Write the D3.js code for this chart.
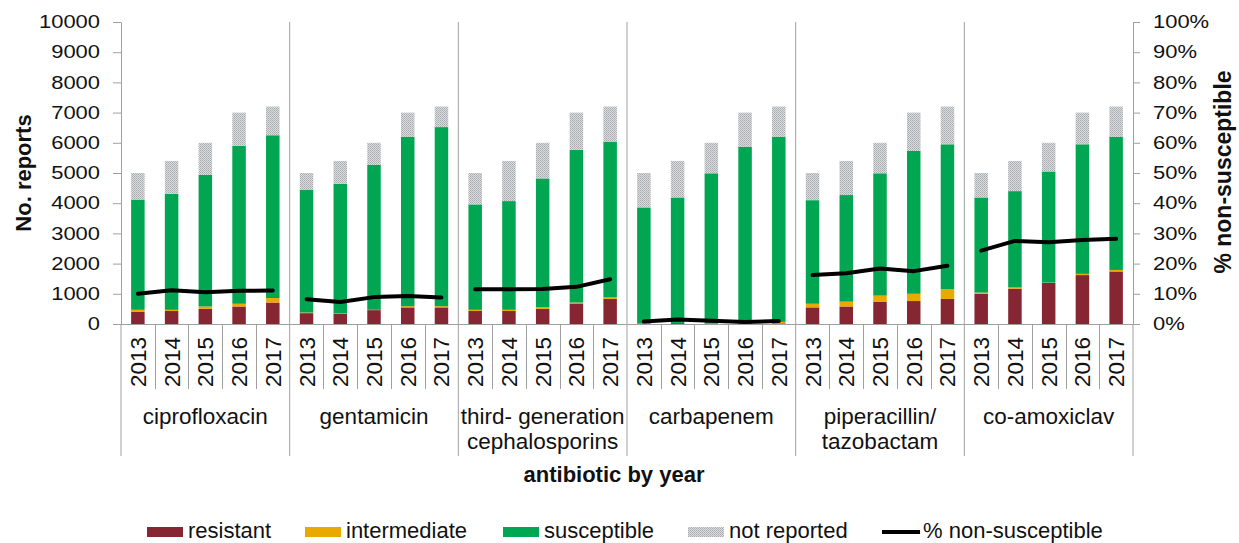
<!DOCTYPE html>
<html>
<head>
<meta charset="utf-8">
<script src="https://cdn.jsdelivr.net/npm/d3@7"></script>
<style>
html,body{margin:0;padding:0;background:#fff;}
svg{display:block;font-family:"Liberation Sans",Arial,sans-serif;}
</style>
</head>
<body>
<svg id="chart" width="1239" height="543"></svg>
<script>
// ---- DATA ----
const antibiotics = ["ciprofloxacin", "gentamicin", "third- generation|cephalosporins", "carbapenem", "piperacillin/|tazobactam", "co-amoxiclav"];
const years = ["2013", "2014", "2015", "2016", "2017"];
const resistant = [
  410, 430, 500, 580, 710,
  360, 340, 460, 550, 550,
  430, 430, 500, 680, 830,
  20, 30, 15, 15, 20,
  550, 580, 730, 760, 830,
  1000, 1170, 1360, 1620, 1740
];
const intermediate = [
  60, 40, 80, 90, 150,
  20, 10, 10, 40, 40,
  40, 40, 60, 30, 50,
  10, 5, 5, 5, 50,
  120, 160, 210, 240, 320,
  40, 40, 10, 40, 50
];
const susceptible = [
  3650, 3840, 4360, 5230, 5390,
  4070, 4290, 4800, 5610, 5930,
  3490, 3600, 4260, 5060, 5160,
  3830, 4155, 4970, 5850, 6130,
  3430, 3530, 4050, 4730, 4800,
  3150, 3190, 3680, 4290, 4410
];
const notReported = [
  880, 1090, 1060, 1100, 950,
  550, 760, 730, 800, 680,
  1040, 1330, 1180, 1230, 1160,
  1140, 1210, 1010, 1130, 1000,
  900, 1130, 1010, 1270, 1250,
  810, 1000, 950, 1050, 1000
];
const pctNonSusceptible = [
  10.0, 11.2, 10.5, 11.0, 11.1,
  8.2, 7.3, 8.9, 9.3, 8.8,
  11.5, 11.5, 11.6, 12.3, 14.8,
  0.8, 1.5, 1.1, 0.7, 1.0,
  16.2, 16.8, 18.4, 17.5, 19.3,
  24.3, 27.5, 27.1, 27.8, 28.2
];
const leftTicks = [0,1000,2000,3000,4000,5000,6000,7000,8000,9000,10000];
const rightTicks = [0,10,20,30,40,50,60,70,80,90,100];
const seriesNames = ["resistant", "intermediate", "susceptible", "not reported"];
const lineName = "% non-susceptible";

// ---- LAYOUT ----
const L = 121, R = 1133, T = 22, B = 324;
const colors = {resistant:"#862633", intermediate:"#E8AA00", susceptible:"#00A651"};
const axisColor = "#a0a0a0";

const svg = d3.select("#chart");
const defs = svg.append("defs");
const pat = defs.append("pattern").attr("id","nr").attr("width",2).attr("height",2).attr("patternUnits","userSpaceOnUse");
pat.append("rect").attr("width",2).attr("height",2).attr("fill","#dadcde");
pat.append("rect").attr("width",1).attr("height",1).attr("fill","#a7abaf");
pat.append("rect").attr("x",1).attr("y",1).attr("width",1).attr("height",1).attr("fill","#b4b8bb");

const keys = [];
antibiotics.forEach((a,gi)=>years.forEach((y,yi)=>keys.push(gi+"_"+yi)));
const rows = keys.map((k,i)=>({key:k, g:Math.floor(i/years.length), year:years[i%years.length],
  resistant:resistant[i], intermediate:intermediate[i], susceptible:susceptible[i], notReported:notReported[i], pct:pctNonSusceptible[i]}));

const x = d3.scaleBand().domain(keys).range([L,R]).padding(0);
const gScale = d3.scaleBand().domain(antibiotics).range([L,R]).padding(0);
const y = d3.scaleLinear().domain([0,10000]).range([B,T]);
const y2 = d3.scaleLinear().domain([0,100]).range([B,T]);

const stack = d3.stack().keys(["resistant","intermediate","susceptible","notReported"]);
const stacked = stack(rows);
const fills = ["resistant","intermediate","susceptible"].map(k=>colors[k]).concat(["url(#nr)"]);
const bw = x.bandwidth()*0.4;

// separators (group)
const seps = antibiotics.map((a,i)=>gScale(a)).concat([R]);
svg.append("g").selectAll("line").data(seps.slice(1,-1)).join("line")
  .attr("x1",d=>d).attr("x2",d=>d).attr("y1",T).attr("y2",456)
  .attr("stroke",axisColor).attr("stroke-width",1);
svg.append("g").selectAll("line").data([L,R]).join("line")
  .attr("x1",d=>d).attr("x2",d=>d).attr("y1",B).attr("y2",456)
  .attr("stroke",axisColor).attr("stroke-width",1);
// year separators
svg.append("g").selectAll("line").data(keys.filter((k,i)=>i%years.length!==0)).join("line")
  .attr("x1",d=>Math.round(x(d))+0.5).attr("x2",d=>Math.round(x(d))+0.5).attr("y1",B).attr("y2",389)
  .attr("stroke",axisColor).attr("stroke-width",1);

// bars
svg.append("g").selectAll("g").data(stacked).join("g")
  .attr("fill",(d,i)=>fills[i])
  .selectAll("rect").data(d=>d).join("rect")
  .attr("x",d=>x(d.data.key)+(x.bandwidth()-bw)/2)
  .attr("width",bw)
  .attr("y",d=>y(d[1]))
  .attr("height",d=>Math.max(0,y(d[0])-y(d[1])));

// axes
const ax = svg.append("g").attr("transform",`translate(${L},0)`)
  .call(d3.axisLeft(y).tickValues(leftTicks).tickSize(8).tickSizeOuter(0).tickFormat(d3.format("d")));
const ax2 = svg.append("g").attr("transform",`translate(${R},0)`)
  .call(d3.axisRight(y2).tickValues(rightTicks).tickSize(7).tickSizeOuter(0).tickFormat(d=>d+"%"));
[ax,ax2].forEach(a=>{
  a.selectAll("path,line").attr("stroke",axisColor);
  a.selectAll("text").attr("font-size",18).attr("fill","#111").attr("font-family","Liberation Sans, Arial, sans-serif");
});
ax.selectAll("text").attr("x",-21/1.22).attr("transform","scale(1.22,1)");
ax2.selectAll("text").attr("x",20/1.22).attr("transform","scale(1.22,1)");
// baseline
svg.append("line").attr("x1",L).attr("x2",R).attr("y1",B+0.5).attr("y2",B+0.5).attr("stroke",axisColor);

// line series
const line = d3.line().x(d=>x(d.key)+x.bandwidth()/2).y(d=>y2(d.pct));
svg.append("g").selectAll("path").data(antibiotics.map((a,gi)=>rows.filter(r=>r.g===gi))).join("path")
  .attr("d",line).attr("fill","none").attr("stroke","#000").attr("stroke-width",4)
  .attr("stroke-linejoin","round").attr("stroke-linecap","round");

// year labels
svg.append("g").selectAll("text").data(rows).join("text")
  .attr("transform",d=>`translate(${x(d.key)+x.bandwidth()/2+8},337) rotate(-90)`)
  .attr("text-anchor","end").attr("font-size",22.5).attr("fill","#111")
  .text(d=>d.year);

// group labels
const gl = svg.append("g").selectAll("text").data(antibiotics).join("text")
  .attr("text-anchor","middle").attr("font-size",22.5).attr("fill","#111");
gl.each(function(d){
  const t = d3.select(this);
  d.split("|").forEach((s,i)=>{
    t.append("tspan").attr("x",gScale(d)+gScale.bandwidth()/2).attr("y",424+i*25).text(s);
  });
});

// axis titles
svg.append("text").attr("transform","translate(31,173) rotate(-90)").attr("text-anchor","middle")
  .attr("font-size",22).attr("font-weight","bold").attr("fill","#111").text("No. reports");
svg.append("text").attr("transform","translate(1231,172) rotate(-90)").attr("text-anchor","middle")
  .attr("font-size",23).attr("font-weight","bold").attr("fill","#111").text("% non-susceptible");
svg.append("text").attr("x",614).attr("y",482).attr("text-anchor","middle")
  .attr("font-size",22).attr("font-weight","bold").attr("fill","#111").text("antibiotic by year");

// legend
const legendX = [147, 305, 503, 688];
const lg = svg.append("g");
seriesNames.forEach((n,i)=>{
  lg.append("rect").attr("x",legendX[i]).attr("y",527).attr("width",36).attr("height",10).attr("fill",fills[i]);
  lg.append("text").attr("x",legendX[i]+41).attr("y",537.5).attr("font-size",22).attr("fill","#111").text(n);
});
lg.append("line").attr("x1",882).attr("x2",920).attr("y1",532).attr("y2",532).attr("stroke","#000").attr("stroke-width",4);
lg.append("text").attr("x",923).attr("y",537.5).attr("font-size",22).attr("fill","#111").text(lineName);
</script>
</body>
</html>
